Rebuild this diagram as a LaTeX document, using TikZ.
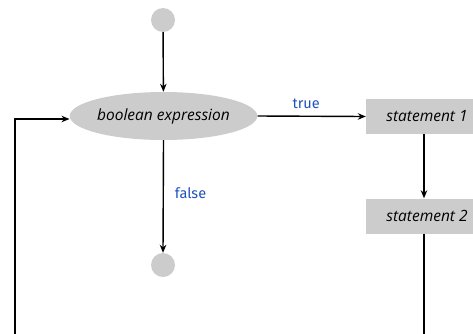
\documentclass[tikz,border=0pt]{standalone}
\usepackage{fontspec}
\setmainfont{Open Sans}
\newfontfamily\labelfont{Fira Sans}
\usetikzlibrary{shapes.geometric,arrows.meta}
\definecolor{boxgray}{RGB}{204,204,204}
\definecolor{labelblue}{RGB}{30,80,190}
\tikzset{
  flow/.style={line width=1.4pt,-{Stealth[length=8pt,width=6.5pt]}},
  plain/.style={line width=1.4pt},
  dot/.style={circle,fill=boxgray,minimum size=24pt,inner sep=0pt},
  cond/.style={ellipse,fill=boxgray,minimum width=187pt,minimum height=48pt,inner sep=0pt,font=\itshape\fontsize{15.5}{18}\selectfont},
  stmt/.style={rectangle,fill=boxgray,minimum width=122pt,minimum height=35pt,inner sep=0pt,font=\itshape\fontsize{15.5}{18}\selectfont},
  lbl/.style={text=labelblue,font=\labelfont\fontsize{14.5}{17}\selectfont,inner sep=0pt}
}
\begin{document}
\begin{tikzpicture}[x=1pt,y=-1pt]
\useasboundingbox (0,0) rectangle (473,333);
\clip (0,0) rectangle (473,333);
\node[dot] (start) at (163,20) {};
\node[cond] (test) at (163.5,116) {boolean expression};
\node[dot] (stop) at (163,265) {};
\node[stmt] (s1) at (427,116.5) {statement 1};
\node[stmt] (s2) at (427,216) {statement 2};
\coordinate (s2down) at (424,345);
\coordinate (leftdown) at (15,345);
\coordinate (leftup) at (15,119);

\draw[flow] (start) -- (test);
\draw[flow] (test.east) -- (s1.west) node[lbl,pos=0.45,above=7pt] {true};
\draw[flow] (test.south) -- (stop.north) node[lbl,pos=0.47,anchor=west,xshift=11pt] {false};
\draw[flow] (s1.south -| s2down) -- (s2.north -| s2down);
\draw[plain] (s2.south -| s2down) -- (s2down);
\draw[flow] (leftdown) -- (leftup) -- (test.west |- leftup);
\end{tikzpicture}
\end{document}
